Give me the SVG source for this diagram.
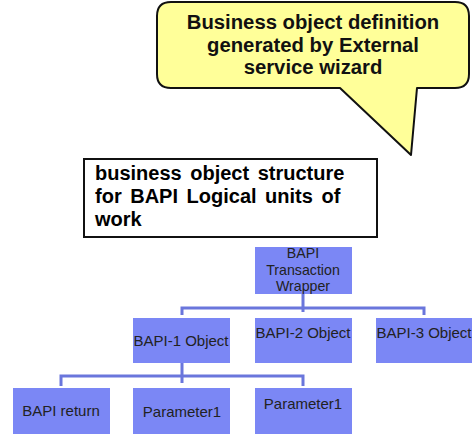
<svg xmlns="http://www.w3.org/2000/svg" width="474" height="435" viewBox="0 0 474 435">
  <style>
    .callout { fill: #ffff99; stroke: #111; stroke-width: 2; stroke-linejoin: round; }
    .ctext { font-family: "Liberation Sans", Arial, sans-serif; font-weight: bold; font-size: 20.3px; fill: #111; text-anchor: middle; }
    .title { fill: #fff; stroke: #111; stroke-width: 2; }
    .ttext { font-family: "Liberation Sans", Arial, sans-serif; font-weight: bold; font-size: 20px; fill: #000; word-spacing: 3px; }
    .node rect { fill: #7b87f5; }
    .node text { font-family: "Liberation Sans", Arial, sans-serif; font-size: 15px; fill: #222; text-anchor: middle; }
    .node text.small { font-size: 14.2px; }
    .conn { fill: none; stroke: #6a76dc; stroke-width: 3; }
  </style>

  <!-- speech bubble -->
  <g id="callout">
    <path class="callout" d="M171,2 H455 Q469,2 469,16 V74 Q469,88 455,88 H417 L411,155 L340,88 H171 Q157,88 157,74 V16 Q157,2 171,2 Z"/>
    <text class="ctext" x="313" y="29">Business object definition</text>
    <text class="ctext" x="313" y="52">generated by External</text>
    <text class="ctext" x="313" y="74">service wizard</text>
  </g>

  <!-- heading box -->
  <g id="heading">
    <rect class="title" x="84" y="159" width="293" height="78"/>
    <text class="ttext" x="95" y="180">business object structure</text>
    <text class="ttext" x="95" y="203">for BAPI Logical units of</text>
    <text class="ttext" x="95" y="226">work</text>
  </g>

  <!-- connectors -->
  <g id="connectors">
    <path class="conn" d="M303,294 V312 M182,315 V308 H424 V315"/>
    <path class="conn" d="M182,363 V383 M61,386 V376 H303 V386"/>
  </g>

  <g id="wrapper" class="node">
    <rect x="255" y="247" width="97" height="47"/>
    <text class="small" x="303" y="258">BAPI</text>
    <text class="small" x="303" y="274.5">Transaction</text>
    <text class="small" x="303" y="291">Wrapper</text>
  </g>
  <g id="bapi1" class="node">
    <rect x="133" y="318" width="97" height="45"/>
    <text x="181" y="346">BAPI-1 Object</text>
  </g>
  <g id="bapi2" class="node">
    <rect x="255" y="318" width="97" height="45"/>
    <text x="303" y="338">BAPI-2 Object</text>
  </g>
  <g id="bapi3" class="node">
    <rect x="376" y="318" width="96" height="45"/>
    <text x="424" y="338">BAPI-3 Object</text>
  </g>
  <g id="bapi-return" class="node">
    <rect x="13" y="388" width="97" height="46"/>
    <text x="61" y="416">BAPI return</text>
  </g>
  <g id="param1a" class="node">
    <rect x="133" y="388" width="97" height="46"/>
    <text x="182" y="417">Parameter1</text>
  </g>
  <g id="param1b" class="node">
    <rect x="255" y="388" width="97" height="46"/>
    <text x="303" y="409">Parameter1</text>
  </g>
</svg>
